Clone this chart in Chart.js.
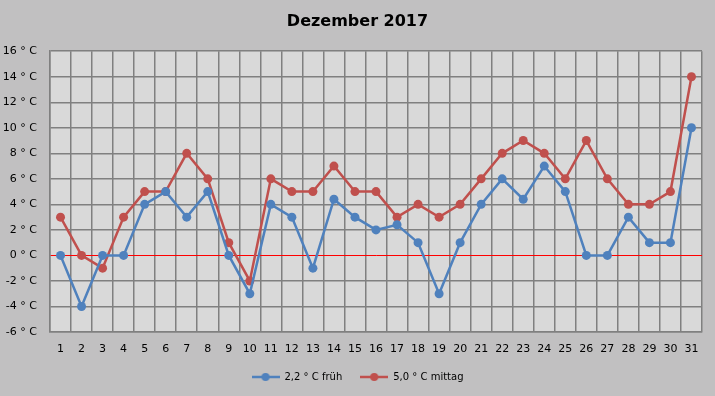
<!DOCTYPE html>
<html>
<head>
<meta charset="utf-8">
<script src="https://cdn.jsdelivr.net/npm/chart.js@4"></script>
<style>
  html, body { margin: 0; padding: 0; }
  body { width: 715px; height: 396px; background: #c1c0c1; }
  #wrap { width: 715px; height: 396px; }
</style>
</head>
<body>
<div id="wrap"><canvas id="tempChart" width="715" height="396"></canvas></div>
<script>
// Tage im Dezember
const days = ["1","2","3","4","5","6","7","8","9","10","11","12","13","14","15","16",
  "17","18","19","20","21","22","23","24","25","26","27","28","29","30","31"];

// Temperatur früh (Mittel 2,2 °C)
const frueh = [0, -4, 0, 0, 4, 5, 3, 5, 0, -3, 4, 3, -1, 4.4, 3, 2,
  2.4, 1, -3, 1, 4, 6, 4.4, 7, 5, 0, 0, 3, 1, 1, 10];

// Temperatur mittag (Mittel 5,0 °C)
const mittag = [3, 0, -1, 3, 5, 5, 8, 6, 1, -2, 6, 5, 5, 7, 5, 5,
  3, 4, 3, 4, 6, 8, 9, 8, 6, 9, 6, 4, 4, 5, 14];

const seriesNames = ["2,2 ° C früh", "5,0 ° C mittag"];
const yTicks = [-6, -4, -2, 0, 2, 4, 6, 8, 10, 12, 14, 16];

const blue = "#4f81bd";
const red = "#c0504d";
const tickFont = { family: "DejaVu Sans", size: 11 };
const legendFont = { family: "DejaVu Sans", size: 10 };

// little legend marker: line with a dot in the middle
function legendMarker(color) {
  const c = document.createElement("canvas");
  c.width = 28;
  c.height = 10;
  const g = c.getContext("2d");
  g.strokeStyle = color;
  g.lineWidth = 2.5;
  g.beginPath();
  g.moveTo(0, 5);
  g.lineTo(28, 5);
  g.stroke();
  g.fillStyle = color;
  g.beginPath();
  g.arc(14, 5, 4, 0, Math.PI * 2);
  g.fill();
  return c;
}

// grey plot area behind the grid
const plotBg = {
  id: "plotBg",
  beforeDraw(chart) {
    const { ctx, chartArea: a } = chart;
    ctx.save();
    ctx.fillStyle = "#d9d9d9";
    ctx.fillRect(a.left, a.top, a.right - a.left, a.bottom - a.top);
    ctx.restore();
  }
};

// title + legend are centred on the whole canvas, not on the padded box
const centerBoxes = {
  id: "centerBoxes",
  afterLayout(chart) {
    [chart.titleBlock, chart.legend].forEach((box) => {
      if (!box) return;
      box.left = 0;
      box.right = chart.width;
      box.width = chart.width;
    });
  }
};

const ctx = document.getElementById("tempChart").getContext("2d");
new Chart(ctx, {
  type: "line",
  data: {
    labels: days,
    datasets: [
      {
        label: seriesNames[0],
        data: frueh,
        borderColor: blue,
        backgroundColor: blue,
        borderWidth: 2.5,
        pointRadius: 4.5,
        pointBorderWidth: 0,
        pointHoverRadius: 4.5,
        tension: 0
      },
      {
        label: seriesNames[1],
        data: mittag,
        borderColor: red,
        backgroundColor: red,
        borderWidth: 2.5,
        pointRadius: 4.5,
        pointBorderWidth: 0,
        pointHoverRadius: 4.5,
        tension: 0
      }
    ]
  },
  options: {
    responsive: false,
    animation: false,
    layout: { padding: { left: 0, right: 13, top: 0, bottom: 4 } },
    scales: {
      x: {
        offset: true,
        grid: { offset: true, color: "#808080", lineWidth: 1.5, drawTicks: false },
        border: { color: "#808080", width: 1.5 },
        ticks: { color: "#000", font: tickFont, padding: 11, maxRotation: 0, autoSkip: false },
        afterFit: (scale) => { scale.height = 22; }
      },
      y: {
        min: yTicks[0],
        max: yTicks[yTicks.length - 1],
        afterBuildTicks: (scale) => { scale.ticks = yTicks.map(v => ({ value: v })); },
        grid: {
          drawTicks: false,
          lineWidth: (c) => c.tick && c.tick.value === 0 ? 1 : 1.5,
          color: (c) => c.tick && c.tick.value === 0 ? "#ff0000" : "#808080"
        },
        border: { color: "#808080", width: 1.5 },
        ticks: {
          color: "#000",
          font: tickFont,
          padding: 13,
          callback: (v) => v + " ° C"
        },
        afterFit: (scale) => { scale.width = 50; }
      }
    },
    plugins: {
      title: {
        display: true,
        text: "Dezember 2017",
        color: "#000",
        font: { family: "DejaVu Sans", size: 16, weight: "bold" },
        padding: { top: 12, bottom: 20 }
      },
      legend: {
        position: "bottom",
        labels: {
          color: "#000",
          font: legendFont,
          usePointStyle: true,
          pointStyleWidth: 28,
          padding: 18,
          generateLabels: (chart) => chart.data.datasets.map((ds, i) => ({
            text: ds.label,
            fontColor: "#000",
            pointStyle: legendMarker(ds.borderColor),
            datasetIndex: i,
            hidden: false,
            lineWidth: 0
          }))
        }
      },
      tooltip: { enabled: false }
    }
  },
  plugins: [plotBg, centerBoxes]
});
</script>
</body>
</html>
